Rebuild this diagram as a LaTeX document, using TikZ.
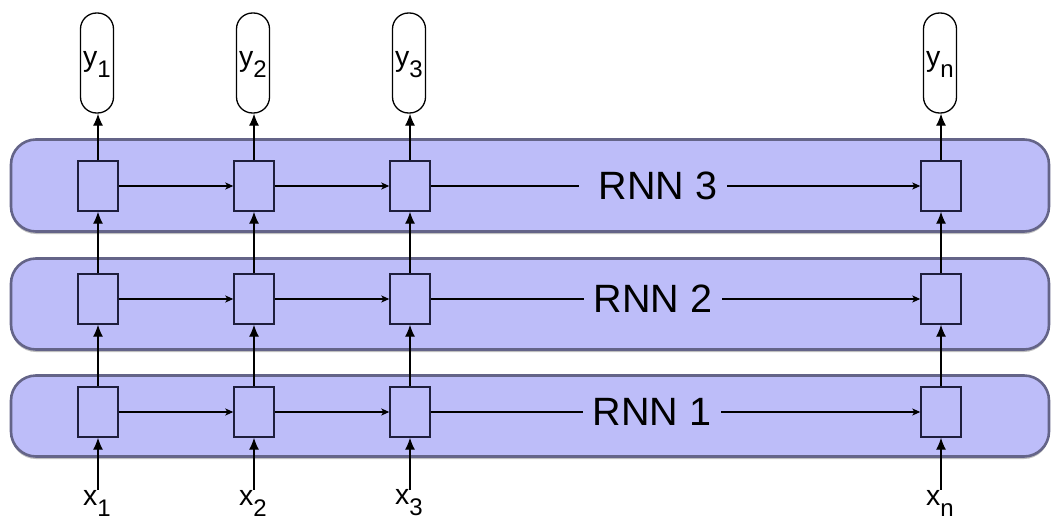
\documentclass[tikz,border=0pt]{standalone}
\usepackage{fontspec}
\setmainfont{Liberation Sans}
\usetikzlibrary{arrows.meta,shadows}
\definecolor{bandfill}{RGB}{189,189,249}
\definecolor{banddraw}{RGB}{100,100,136}
\definecolor{boxdraw}{RGB}{30,30,60}
\newcommand\sublab[2]{#1\raisebox{-11pt}{\fontsize{24}{24}\selectfont #2}}
\begin{document}
\begin{tikzpicture}[x=1pt,y=-1pt,
  band/.style={draw=banddraw, line width=2.6pt, fill=bandfill, rounded corners=25pt,
    minimum width=1038pt, inner sep=0pt,
    drop shadow={shadow xshift=0pt, shadow yshift=-2.5pt, fill=black, opacity=0.25}},
  cell/.style={draw=boxdraw, line width=1.4pt, minimum width=40pt, minimum height=50pt, inner sep=0pt},
  outnode/.style={draw=black, line width=1.3pt, rounded corners=16pt, minimum width=33pt,
    minimum height=100pt, inner sep=0pt, text height=20pt, text depth=12pt,
    font=\fontsize{28.5}{30}\selectfont},
  inlabel/.style={font=\fontsize{28.5}{30}\selectfont, inner sep=0pt},
  vup/.style={-{Latex[length=12pt,width=10pt]}, line width=1.3pt},
  hright/.style={-{Stealth[length=8pt,width=7pt,inset=2pt]}, line width=1.2pt},
  hline/.style={line width=1.2pt},
  rnnlabel/.style={font=\fontsize{39.5}{40}\selectfont, inner ysep=0pt, inner xsep=10pt}
]
\useasboundingbox[fill=white] (0,0) rectangle (1056,532);

% bands
\node[band, minimum height=92pt] (band3) at (530,185.5) {};
\node[band, minimum height=91pt] (band2) at (530,304) {};
\node[band, minimum height=81pt] (band1) at (530,416) {};

% cells
\foreach \n/\x in {1/98,2/254,3/410,n/941}{
  \node[cell] (a\n) at (\x,412) {};
  \node[cell] (b\n) at (\x,299) {};
  \node[cell] (c\n) at (\x,186) {};
}

% outputs
\node[outnode] (y1) at (97,63) {\sublab{y}{1}};
\node[outnode] (y2) at (253,63) {\sublab{y}{2}};
\node[outnode] (y3) at (409,63) {\sublab{y}{3}};
\node[outnode] (yn) at (940,63) {\sublab{y}{n}};

% inputs
\node[inlabel] (x1) at (97,503) {\sublab{x}{1}};
\node[inlabel] (x2) at (253,503) {\sublab{x}{2}};
\node[inlabel] (x3) at (409,503) {\sublab{x}{3}};
\node[inlabel] (xn) at (940,503) {\sublab{x}{n}};

% RNN labels
\node[rnnlabel] (r3) at (658,186) {RNN 3};
\node[rnnlabel] (r2) at (653,299) {RNN 2};
\node[rnnlabel] (r1) at (652,412) {RNN 1};

% vertical connectors
\foreach \n in {1,2,3,n}{
  \draw[vup] (x\n.north -| a\n) -- (a\n.south);
  \draw[vup] (a\n.north) -- (b\n.south);
  \draw[vup] (b\n.north) -- (c\n.south);
  \draw[vup] (c\n.north) -- (y\n.south -| c\n);
}

% horizontal connectors
\foreach \r in {a,b,c}{
  \draw[hright] (\r1.east) -- (\r2.west);
  \draw[hright] (\r2.east) -- (\r3.west);
}
\draw[hline, shorten >=10pt] (c3.east) -- (r3.west);
\draw[hright] (r3.east) -- (cn.west);
\draw[hline] (b3.east) -- (r2.west);
\draw[hright] (r2.east) -- (bn.west);
\draw[hline] (a3.east) -- (r1.west);
\draw[hright] (r1.east) -- (an.west);
\end{tikzpicture}
\end{document}
